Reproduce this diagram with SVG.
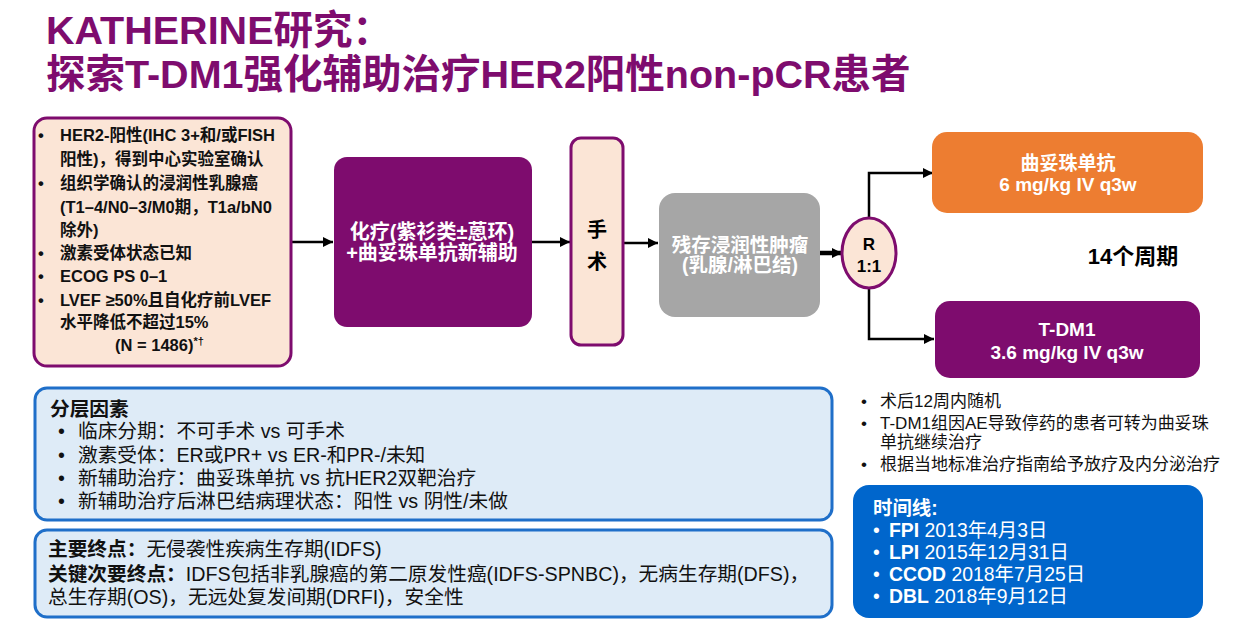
<svg xmlns="http://www.w3.org/2000/svg" width="1251" height="631" viewBox="0 0 1251 631">
<defs>
<style>
text{font-family:"Liberation Sans","Noto Sans CJK SC",sans-serif;}
.title{font-size:39.5px;font-weight:bold;fill:#7E0C6E;}
.b{font-weight:bold;}
.elig{font-size:16.5px;font-weight:bold;fill:#111;}
.wh{fill:#fff;font-weight:bold;}
.conn{stroke:#000;stroke-width:2.5;fill:none;}
.pe{fill:#FBE5D6;stroke:#7E0C6E;stroke-width:3;}
.bl{fill:#DEEBF7;stroke:#1F6FC9;stroke-width:3;}
.t19{font-size:19.7px;fill:#111;}
.note{font-size:17px;fill:#111;}
.tl{font-size:19.4px;fill:#fff;}
</style>
<marker id="arr" viewBox="0 0 10 10" refX="10" refY="5" markerWidth="10" markerHeight="10" markerUnits="userSpaceOnUse" orient="auto"><path d="M0,0 L10,5 L0,10 z" fill="#000"/></marker>
</defs>
<rect width="1251" height="631" fill="#fff"/>
<g id="title">
<text class="title" x="46" y="44">KATHERINE研究：</text>
<text class="title" x="46" y="88">探索T-DM1强化辅助治疗HER2阳性non-pCR患者</text>
</g>
<g id="connectors">
<path class="conn" d="M291,242 H333" marker-end="url(#arr)"/>
<path class="conn" d="M532,242 H570" marker-end="url(#arr)"/>
<path class="conn" d="M623,243 H658" marker-end="url(#arr)"/>
<path class="conn" style="stroke-width:4.5" d="M820,253 H842" marker-end="url(#arr)"/>
<path class="conn" d="M869,218 V173 H933" marker-end="url(#arr)"/>
<path class="conn" d="M869,288 V339 H934" marker-end="url(#arr)"/>
</g>
<g id="eligibility">
<rect class="pe" x="34" y="118" width="257" height="248" rx="13"/>
<g class="elig">
<text x="38" y="141">•</text><text x="60" y="141">HER2-阳性(IHC 3+和/或FISH</text>
<text x="60" y="165">阳性)，得到中心实验室确认</text>
<text x="38" y="189">•</text><text x="60" y="189">组织学确认的浸润性乳腺癌</text>
<text x="60" y="213">(T1–4/N0–3/M0期，T1a/bN0</text>
<text x="60" y="236">除外)</text>
<text x="38" y="259">•</text><text x="60" y="259">激素受体状态已知</text>
<text x="38" y="282">•</text><text x="60" y="282">ECOG PS 0–1</text>
<text x="38" y="306">•</text><text x="60" y="306">LVEF ≥50%且自化疗前LVEF</text>
<text x="60" y="328">水平降低不超过15%</text>
<text x="115" y="351">(N = 1486)<tspan font-size="11" dy="-6">*†</tspan></text>
</g>
</g>
<g id="neoadjuvant">
<rect x="334" y="157" width="198" height="170" rx="13" fill="#7E0C6E"/>
<text class="wh" font-size="20" x="432" y="239" text-anchor="middle">化疗(紫衫类±蒽环)</text>
<text class="wh" font-size="20" x="432" y="260" text-anchor="middle">+曲妥珠单抗新辅助</text>
</g>
<g id="surgery">
<rect class="pe" x="571" y="138" width="52" height="207" rx="10"/>
<text class="b" font-size="20" x="597" y="237" text-anchor="middle" fill="#000">手</text>
<text class="b" font-size="20" x="597" y="269" text-anchor="middle" fill="#000">术</text>
</g>
<g id="residual">
<rect x="659" y="193" width="161" height="124" rx="16" fill="#A6A6A6"/>
<text class="wh" font-size="19.5" x="740" y="252" text-anchor="middle">残存浸润性肿瘤</text>
<text class="wh" font-size="19.5" x="740" y="272" text-anchor="middle">(乳腺/淋巴结)</text>
</g>
<g id="randomize">
<ellipse class="pe" cx="869" cy="253" rx="27" ry="35"/>
<text class="b" font-size="17" x="869" y="250" text-anchor="middle" fill="#000">R</text>
<text class="b" font-size="17" x="869" y="272" text-anchor="middle" fill="#000">1:1</text>
</g>
<g id="trastuzumab">
<rect x="932" y="132" width="271" height="81" rx="15" fill="#ED7D31"/>
<text class="wh" font-size="19" x="1068" y="170" text-anchor="middle">曲妥珠单抗</text>
<text class="wh" font-size="19" x="1068" y="191" text-anchor="middle">6 mg/kg IV q3w</text>
</g>
<g id="tdm1">
<rect x="935" y="301" width="265" height="77" rx="15" fill="#7E0C6E"/>
<text class="wh" font-size="19" x="1067" y="336" text-anchor="middle">T-DM1</text>
<text class="wh" font-size="19" x="1067" y="359" text-anchor="middle">3.6 mg/kg IV q3w</text>
</g>
<g id="cycles">
<text class="b" font-size="22" x="1133" y="264" text-anchor="middle" fill="#000">14个周期</text>
</g>
<g id="stratification">
<rect class="bl" x="35" y="388" width="797" height="132" rx="12"/>
<text class="t19 b" x="50" y="416">分层因素</text>
<g class="t19">
<text x="58" y="438">•</text><text x="78" y="438">临床分期：不可手术 vs 可手术</text>
<text x="58" y="462">•</text><text x="78" y="462">激素受体：ER或PR+ vs ER-和PR-/未知</text>
<text x="58" y="485">•</text><text x="78" y="485">新辅助治疗：曲妥珠单抗 vs 抗HER2双靶治疗</text>
<text x="58" y="508">•</text><text x="78" y="508">新辅助治疗后淋巴结病理状态：阳性 vs 阴性/未做</text>
</g>
</g>
<g id="endpoints">
<rect class="bl" x="35" y="530" width="797" height="87" rx="12"/>
<g class="t19">
<text x="48" y="556"><tspan class="b">主要终点：</tspan>无侵袭性疾病生存期(IDFS)</text>
<text x="48" y="581"><tspan class="b">关键次要终点：</tspan>IDFS包括非乳腺癌的第二原发性癌(IDFS-SPNBC)，无病生存期(DFS)，</text>
<text x="48" y="604">总生存期(OS)，无远处复发间期(DRFI)，安全性</text>
</g>
</g>
<g id="notes" class="note">
<text x="861" y="407">•</text><text x="880" y="407">术后12周内随机</text>
<text x="861" y="429">•</text><text x="880" y="429">T-DM1组因AE导致停药的患者可转为曲妥珠</text>
<text x="880" y="448">单抗继续治疗</text>
<text x="861" y="470">•</text><text x="880" y="470">根据当地标准治疗指南给予放疗及内分泌治疗</text>
</g>
<g id="timeline">
<rect x="853" y="485" width="350" height="133" rx="16" fill="#0066CC"/>
<text class="tl b" x="873" y="515">时间线:</text>
<text class="tl" x="873" y="537">•</text><text class="tl" x="889" y="537"><tspan class="b">FPI</tspan> 2013年4月3日</text>
<text class="tl" x="873" y="559">•</text><text class="tl" x="889" y="559"><tspan class="b">LPI</tspan> 2015年12月31日</text>
<text class="tl" x="873" y="581">•</text><text class="tl" x="889" y="581"><tspan class="b">CCOD</tspan> 2018年7月25日</text>
<text class="tl" x="873" y="603">•</text><text class="tl" x="889" y="603"><tspan class="b">DBL</tspan> 2018年9月12日</text>
</g>
</svg>
